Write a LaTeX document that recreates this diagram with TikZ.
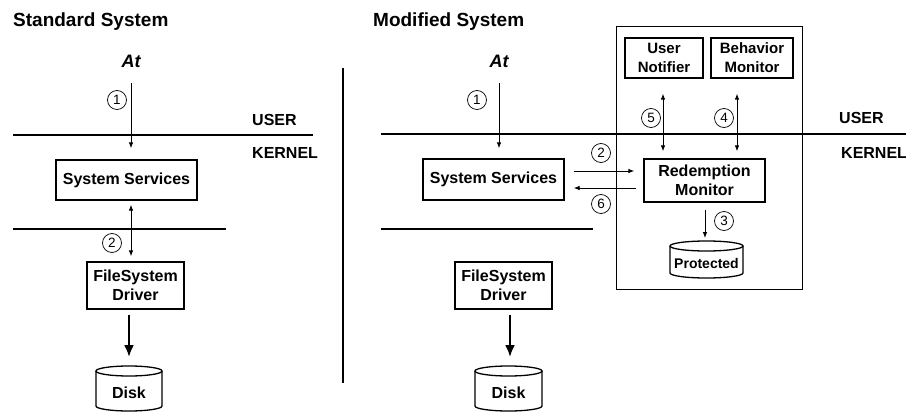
\documentclass[tikz,border=0pt]{standalone}
\usepackage{fontspec}
\setmainfont{Liberation Sans}
\usetikzlibrary{arrows.meta,calc}
\begin{document}
\begin{tikzpicture}[x=1pt,y=-1pt,
  box/.style={draw, line width=1.3pt, inner sep=0pt, align=center, font=\fontsize{16}{19}\selectfont\bfseries},
  sbox/.style={box, font=\fontsize{15}{19}\selectfont\bfseries},
  num/.style={draw, circle, line width=0.7pt, inner sep=0pt, minimum size=19pt, font=\fontsize{13.5}{13.5}\selectfont},
  arr/.style={-{Latex[length=6pt,width=4.5pt]}, line width=0.8pt},
  darr/.style={{Latex[length=6pt,width=4.5pt]}-{Latex[length=6pt,width=4.5pt]}, line width=0.8pt},
  big/.style={-{Latex[length=12pt,width=10pt]}, line width=2.2pt},
  sep/.style={line width=1.6pt},
  lbl/.style={font=\fontsize{16}{16}\selectfont\bfseries, anchor=base west, inner sep=0pt},
  ttl/.style={font=\fontsize{19}{19}\selectfont\bfseries, anchor=base west, inner sep=0pt},
  atl/.style={font=\fontsize{18}{18}\selectfont\bfseries\itshape, anchor=base, inner sep=0pt},
  cyltxt/.style={font=\fontsize{16}{16}\selectfont\bfseries, inner sep=0pt},
  cyl/.style={line width=1.3pt}
]
\useasboundingbox (0,0) rectangle (906,412);

% ---------------- Standard system ----------------
\node[ttl] (ttlL) at (13,27) {Standard System};
\node[atl] (atL) at (131,68) {At};
\node[lbl] (userL) at (252,125) {USER};
\node[lbl] (kernL) at (252,158) {KERNEL};
\draw[sep] (13,135) -- (313,135);
\draw[sep] (13,229) -- (226,229);

\node[box, minimum width=141pt, minimum height=40pt] (ssL) at (126.5,180) {System Services};
\node[box, minimum width=97pt, minimum height=47pt] (fsL) at (135.5,285.5) {FileSystem\\Driver};
\node[cyltxt] (diskL) at (129,393) {Disk};
\coordinate (diskLtop) at (129,366);
\draw[cyl] (129,371) ellipse [x radius=33, y radius=5];
\draw[cyl] (96,371) -- (96,406) arc[start angle=180, end angle=0, x radius=33, y radius=5] -- (162,371);

\draw[arr, shorten <=15pt, shorten >=11pt] (atL.south) -- (atL.south |- ssL.north);
\node[num] (n1L) at (117,100) {1};
\draw[darr, shorten <=4pt, shorten >=5pt] (atL.south |- ssL.south) -- (atL.south |- fsL.north);
\node[num] (n2L) at (112,243) {2};
\draw[big, shorten <=5pt, shorten >=9pt] (fsL.south -| diskLtop) -- (diskLtop);

% separator
\draw[line width=1.3pt] (343,68) -- (343,383);

% ---------------- Modified system ----------------
\node[ttl] (ttlR) at (373,27) {Modified System};
\node[atl] (atR) at (499,68) {At};
\node[lbl] (userR) at (839,124) {USER};
\node[lbl] (kernR) at (841,158) {KERNEL};

\node[draw, line width=0.8pt, inner sep=0pt, minimum width=186pt, minimum height=263pt] (cont) at (709,157.5) {};

\draw[sep] (381,134) -- (906,134);
\draw[sep] (381,229) -- (593,229);

\node[box, minimum width=141pt, minimum height=41pt] (ssR) at (493.5,179.5) {System Services};
\node[box, minimum width=97pt, minimum height=47pt] (fsR) at (503.5,285.5) {FileSystem\\Driver};
\node[cyltxt] (diskR) at (508.5,393) {Disk};
\coordinate (diskRtop) at (510,366);
\draw[cyl] (508.5,371) ellipse [x radius=33.5, y radius=5];
\draw[cyl] (475,371) -- (475,406) arc[start angle=180, end angle=0, x radius=33.5, y radius=5] -- (542,371);

\node[sbox, minimum width=78pt, minimum height=40pt] (un) at (664,58) {User\\Notifier};
\node[sbox, minimum width=82pt, minimum height=40pt] (bm) at (752,58) {Behavior\\Monitor};
\node[box, minimum width=121pt, minimum height=43pt] (rm) at (704.5,180.5) {Redemption\\Monitor};
\node[cyltxt, font=\fontsize{14}{14}\selectfont\bfseries] (prot) at (706.5,263) {Protected};
\coordinate (protTop) at (705,241);
\draw[cyl] (706.5,246) ellipse [x radius=36.5, y radius=5];
\draw[cyl] (670,246) -- (670,273) arc[start angle=180, end angle=0, x radius=36.5, y radius=5] -- (743,246);

\draw[arr, shorten <=15pt, shorten >=10pt] (atR.south) -- (atR.south |- ssR.north);
\node[num] (n1R) at (477,100) {1};

\draw[arr] ($(ssR.east)+(9,-8.5)$) -- ($(rm.west |- ssR.east)+(-9,-8.5)$);
\draw[arr] ($(rm.west |- ssR.east)+(-7,8.5)$) -- ($(ssR.east)+(9,8.5)$);
\node[num] (n2R) at (601,153) {2};
\node[num] (n6R) at (601,204) {6};

\draw[darr, shorten <=15pt, shorten >=7pt] ($(un.south)+(-1,0)$) -- ($(un.south |- rm.north)+(-1,0)$);
\node[num] (n5R) at (651,118) {5};
\draw[darr, shorten <=15pt, shorten >=7pt] ($(bm.south)+(-15,0)$) -- ($(bm.south |- rm.north)+(-15,0)$);
\node[num] (n4R) at (724,118) {4};

\draw[arr, shorten <=7pt, shorten >=3pt] (rm.south -| protTop) -- (protTop);
\node[num] (n3R) at (724,221) {3};

\draw[big, shorten <=5pt, shorten >=9pt] (fsR.south -| diskRtop) -- (diskRtop);
\end{tikzpicture}
\end{document}
